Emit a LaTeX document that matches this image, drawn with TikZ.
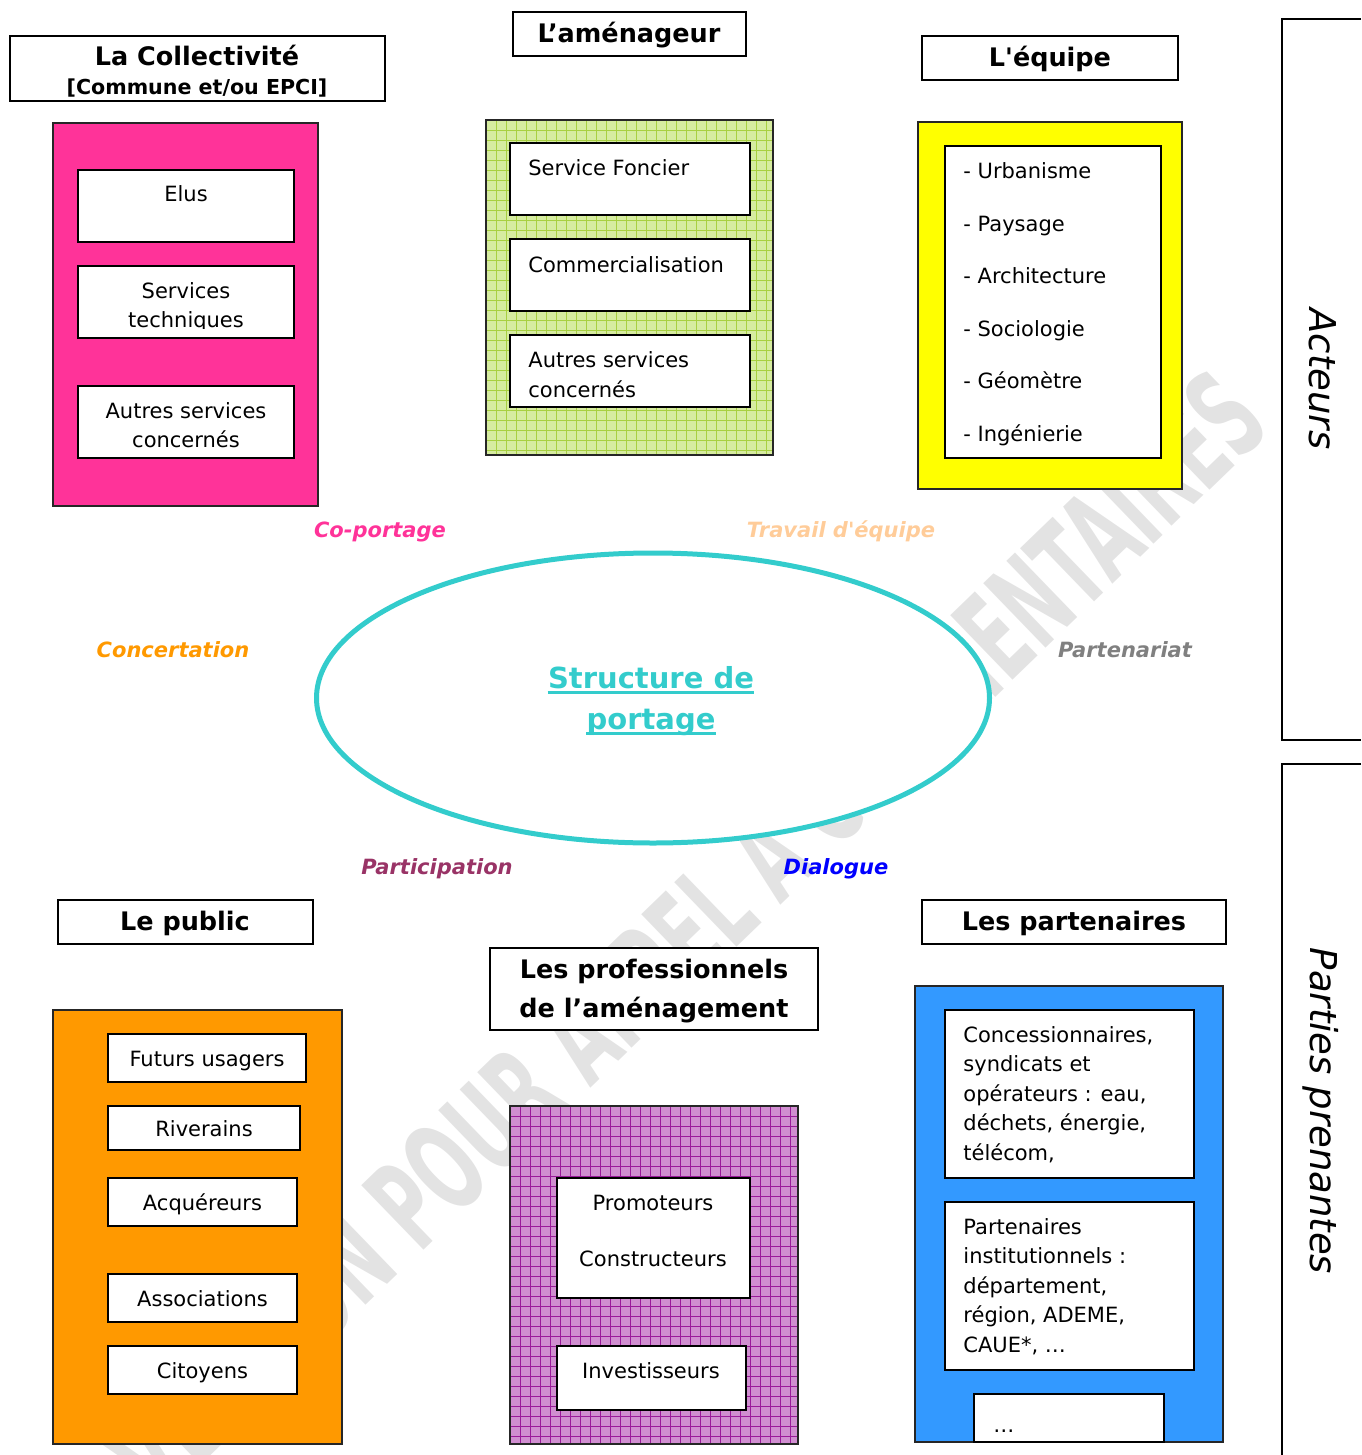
\documentclass[tikz,border=0pt]{standalone}
\usepackage{fontspec}
\setmainfont{DejaVu Sans}
\newfontfamily\stampfont[FakeStretch=0.55]{DejaVu Sans}
\usetikzlibrary{shapes.geometric}

\definecolor{colPink}{HTML}{FF3399}
\definecolor{colLime}{HTML}{D6ECA0}
\definecolor{colLimeLine}{HTML}{A8D040}
\definecolor{colYellow}{HTML}{FFFF00}
\definecolor{colOrange}{HTML}{FF9900}
\definecolor{colPlum}{HTML}{D08ED0}
\definecolor{colPlumLine}{HTML}{9A1A9A}
\definecolor{colBlue}{HTML}{3399FF}
\definecolor{colTurq}{HTML}{33CCCC}
\definecolor{colPeach}{HTML}{FFCC99}
\definecolor{colGrey}{HTML}{808080}
\definecolor{colWine}{HTML}{993366}
\definecolor{colDialog}{HTML}{0000FF}

\begin{document}
\begin{tikzpicture}[x=0.5pt, y=-0.5pt,
  frame/.style={draw=black, line width=1pt, fill=white},
  group/.style={draw=black!85, line width=1pt},
  headtxt/.style={font=\bfseries\fontsize{12.75}{15}\selectfont, inner sep=0pt, anchor=base},
  subtxt/.style={font=\bfseries\fontsize{10.3}{12}\selectfont, inner sep=0pt, anchor=base},
  bodytxt/.style={font=\fontsize{10.5}{14.75}\selectfont, inner sep=0pt, anchor=base},
  bodyleft/.style={bodytxt, anchor=base west},
  linktxt/.style={font=\bfseries\itshape\fontsize{10.5}{13}\selectfont, inner sep=0pt, anchor=base},
  sidetxt/.style={font=\itshape\fontsize{18.5}{22}\selectfont, inner sep=0pt, anchor=base, rotate=-90},
  stamp/.style={font=\stampfont\bfseries\fontsize{61.5}{62}\selectfont, text=gray!22, inner sep=0pt, rotate=44}]

  \useasboundingbox (0,0) rectangle (1361,1455);

  % watermark
  \node[stamp] (stamp) at (685,935) {VERSION POUR APPEL A COMMENTAIRES};

  % la collectivite
  \draw[frame] (10,36) rectangle (385,101);
  \node[headtxt] (colTitle) at (197,66) {La Collectivité};
  \node[subtxt] (colSub) at (197,95) {[Commune et/ou EPCI]};
  \draw[group, fill=colPink] (53,123) rectangle (318,506);
  \draw[frame] (78,170) rectangle (294,242);
  \node[bodytxt] (elus) at (186,202) {Elus};
  \draw[frame] (78,266) rectangle (294,338);
  \begin{scope}
    \clip (78,266) rectangle (294,328);
    \node[bodytxt] (servA) at (186,298) {Services};
    \node[bodytxt] (servB) at (186,327) {techniques};
  \end{scope}
  \draw[frame] (78,386) rectangle (294,458);
  \node[bodytxt] (autreA) at (186,418) {Autres services};
  \node[bodytxt] (autreB) at (186,447) {concernés};

  % l'amenageur
  \draw[frame] (513,12) rectangle (746,56);
  \node[headtxt] (amenTitle) at (629,43) {L’aménageur};
  \draw[fill=colLime, draw=none] (486,120) rectangle (773,455);
  \begin{scope}
    \clip (486,120) rectangle (773,455);
    \foreach \gx in {486,496,...,776} \draw[colLimeLine, line width=0.45pt] (\gx,120) -- (\gx,455);
    \foreach \gy in {120,130,...,460} \draw[colLimeLine, line width=0.45pt] (486,\gy) -- (773,\gy);
  \end{scope}
  \draw[group] (486,120) rectangle (773,455);
  \foreach \ty in {143,239,335} \draw[frame] (510,\ty) rectangle (750,\ty+72);
  \node[bodyleft] (foncier) at (528,176) {Service Foncier};
  \node[bodyleft] (commerce) at (528,272) {Commercialisation};
  \node[bodyleft] (amenA) at (528,367) {Autres services};
  \node[bodyleft] (amenB) at (528,397) {concernés};

  % l'equipe
  \draw[frame] (922,36) rectangle (1178,80);
  \node[headtxt] (eqTitle) at (1050,67) {L\textquotesingle équipe};
  \draw[group, fill=colYellow] (918,122) rectangle (1182,489);
  \draw[frame] (945,146) rectangle (1161,458);
  \foreach \txt [count=\i] in {Urbanisme, Paysage, Architecture, Sociologie, Géomètre, Ingénierie}
    \node[bodyleft] (eq\i) at (963,179+52.4*\i-52.4) {- \txt};

  % liens
  \node[linktxt, text=colPink] (coport) at (380,537) {Co-portage};
  \node[linktxt, text=colPeach] (travail) at (841,537) {Travail d\textquotesingle équipe};
  \node[linktxt, text=colOrange] (concert) at (173,657) {Concertation};
  \node[linktxt, text=colGrey] (partenar) at (1125,657) {Partenariat};
  \node[linktxt, text=colWine] (particip) at (437,874) {Participation};
  \node[linktxt, text=colDialog] (dialogue) at (836,874) {Dialogue};

  % structure de portage
  \node[ellipse, draw=colTurq, line width=2.5pt, fill=white, inner sep=0pt,
        minimum width=336.5pt, minimum height=145pt] (portage) at (653,698) {};
  \node[font=\bfseries\fontsize{14.5}{20}\selectfont, text=colTurq, inner sep=0pt, anchor=base] (strA) at (651,688) {Structure de};
  \node[font=\bfseries\fontsize{14.5}{20}\selectfont, text=colTurq, inner sep=0pt, anchor=base] (strB) at (651,729) {portage};
  \draw[colTurq, line width=1.4pt] ([yshift=-2.2pt]strA.base west) -- ([yshift=-2.2pt]strA.base east);
  \draw[colTurq, line width=1.4pt] ([yshift=-2.2pt]strB.base west) -- ([yshift=-2.2pt]strB.base east);

  % le public
  \draw[frame] (58,900) rectangle (313,944);
  \node[headtxt] (pubTitle) at (185,930) {Le public};
  \draw[group, fill=colOrange] (53,1010) rectangle (342,1444);
  \foreach \top/\bot/\rgt/\txt [count=\i] in {1034/1082/306/{Futurs usagers}, 1106/1150/300/{Riverains},
      1178/1226/297/{Acquéreurs}, 1274/1322/297/{Associations}, 1346/1394/297/{Citoyens}} {
    \draw[frame] (108,\top) rectangle (\rgt,\bot);
    \node[bodytxt] (pub\i) at ({(108+\rgt)/2},{(\top+\bot)/2+8}) {\txt};
  }

  % les professionnels
  \draw[frame] (490,948) rectangle (818,1030);
  \node[headtxt] (proTitleA) at (654,978) {Les professionnels};
  \node[headtxt] (proTitleB) at (654,1017) {de l’aménagement};
  \draw[fill=colPlum, draw=none] (510,1106) rectangle (798,1444);
  \begin{scope}
    \clip (510,1106) rectangle (798,1444);
    \foreach \gx in {510,520,...,800} \draw[colPlumLine, line width=0.45pt] (\gx,1106) -- (\gx,1444);
    \foreach \gy in {1106,1116,...,1446} \draw[colPlumLine, line width=0.45pt] (510,\gy) -- (798,\gy);
  \end{scope}
  \draw[group] (510,1106) rectangle (798,1444);
  \draw[frame] (557,1178) rectangle (750,1298);
  \node[bodytxt] (promo) at (653,1210) {Promoteurs};
  \node[bodytxt] (constr) at (653,1266) {Constructeurs};
  \draw[frame] (557,1346) rectangle (746,1410);
  \node[bodytxt] (invest) at (651,1378) {Investisseurs};

  % les partenaires
  \draw[frame] (922,900) rectangle (1226,944);
  \node[headtxt] (partTitle) at (1074,930) {Les partenaires};
  \draw[group, fill=colBlue] (915,986) rectangle (1223,1442);
  \draw[frame] (945,1010) rectangle (1194,1178);
  \foreach \txt [count=\i] in {{Concessionnaires,}, {syndicats et}, {opérateurs : eau,}, {déchets, énergie,}, {télécom,}}
    \node[bodyleft] (conc\i) at (963,1042+29.5*\i-29.5) {\txt};
  \draw[frame] (945,1202) rectangle (1194,1370);
  \foreach \txt [count=\i] in {{Partenaires}, {institutionnels :}, {département,}, {région, ADEME,}, {CAUE*, …}}
    \node[bodyleft] (inst\i) at (963,1234+29.5*\i-29.5) {\txt};
  \draw[frame] (974,1394) rectangle (1164,1442);
  \node[bodyleft] (etc) at (993,1432) {…};

  % acteurs / parties prenantes
  \draw[line width=1pt] (1361,19) -- (1282,19) -- (1282,740) -- (1361,740);
  \draw[line width=1pt] (1361,764) -- (1282,764) -- (1282,1455);
  \node[sidetxt] (acteurs) at (1309,379) {Acteurs};
  \node[sidetxt] (parties) at (1310,1111) {Parties prenantes};
\end{tikzpicture}
\end{document}
